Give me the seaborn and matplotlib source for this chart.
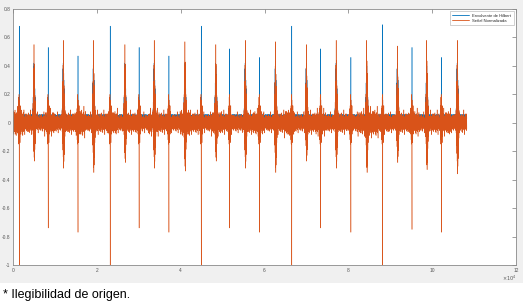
import numpy as np
import pandas as pd
import seaborn as sns
import matplotlib.pyplot as plt
from matplotlib.patches import Rectangle

# beat positions in units of 1e4 samples
narrow_x = [0.15, 0.84, 1.55, 2.32, 3.01, 3.72, 4.49, 5.17, 5.88, 6.65, 7.34, 8.06, 8.82, 9.52, 10.22]
narrow_env = [0.68, 0.53, 0.47, 0.68, 0.53, 0.47, 0.68, 0.52, 0.46, 0.68, 0.52, 0.46, 0.69, 0.53, 0.46]
narrow_low = [-1.0, -0.74, -0.77, -1.0, -0.74, -0.77, -1.0, -0.74, -0.77, -1.0, -0.74, -0.77, -1.0, -0.75, -0.77]

broad_x = [0.50, 1.20, 1.92, 2.67, 3.37, 4.10, 4.84, 5.54, 6.26, 7.00, 7.71, 8.44, 9.17, 9.87, 10.60]
broad_peak = [0.55, 0.58, 0.58, 0.55, 0.58, 0.57, 0.55, 0.58, 0.57, 0.55, 0.58, 0.58, 0.54, 0.58, 0.58]
broad_low = [-0.27, -0.32, -0.35, -0.28, -0.32, -0.34, -0.27, -0.32, -0.35, -0.27, -0.32, -0.35, -0.28, -0.33, -0.36]

signal_end = 10.83
step = 0.003

# baseline noise level per 0.25 x 1e4 block, estimated from the band width
noise_level = [0.09, 0.07, 0.06, 0.08, 0.06, 0.07, 0.09, 0.06, 0.07, 0.08, 0.06, 0.07,
               0.06, 0.08, 0.07, 0.06, 0.09, 0.07, 0.06, 0.08, 0.07, 0.06, 0.07, 0.08,
               0.06, 0.07, 0.09, 0.06, 0.07, 0.08, 0.06, 0.07, 0.06, 0.08, 0.09, 0.07,
               0.06, 0.07, 0.08, 0.06, 0.07, 0.08, 0.06, 0.07]

# hand-typed waveform pieces
noise = [0.3, -0.8, 0.5, -0.2, 0.9, -0.6, 0.1, -0.9, 0.7, -0.4, 0.2, -0.7, 0.8, -0.1, 0.4,
         -0.5, 1.0, -0.3, 0.6, -0.9, 0.0, -0.6, 0.7, -0.2, 0.5, -1.0, 0.3, -0.4, 0.8, -0.7,
         0.2, -0.3, 0.4, -0.6, 1.3, -0.5, 0.2, -0.8, 0.6, -0.3, 0.1, -1.2, 0.5, -0.2, 0.7,
         -0.6, 0.3, -0.4, 0.9, -0.1, 0.4, -0.7, 0.2]
env_noise = [0.03, 0.05, 0.02, 0.04, 0.06, 0.02, 0.04, 0.01, 0.05, 0.03, 0.04, 0.02, 0.06,
             0.03, 0.04, 0.05, 0.02, 0.05, 0.03, 0.04, 0.02, 0.06, 0.04, 0.01, 0.05, 0.03, 0.05, 0.02, 0.04]
narrow_shape = [0.06, -0.08, 0.1, -0.12, 0.12, -0.15, 0.18, -0.1, 0.2, -0.14, 0.0,
                0.16, -0.12, 0.12, -0.1, 0.1, -0.14, 0.08, -0.06, 0.12, -0.08, 0.06]
narrow_spike = 10
broad_shape = [0.1, -0.1, 0.15, -0.2, 0.25, -0.3, 0.35, -0.45, 0.5, -0.6, 0.7, -0.75,
               1.0, -0.9, 0.75, -1.0, 0.6, -0.85, 0.45, -0.7, 0.35, -0.55, 0.28, -0.4,
               0.2, -0.3, 0.15, -0.2, 0.12, -0.15]
broad_env = [0.05, 0.1, 0.06, 0.18, 0.1, 0.28, 0.15, 0.38, 0.2, 0.42, 0.28, 0.4,
             0.3, 0.34, 0.2, 0.3, 0.15, 0.24, 0.1, 0.18, 0.08, 0.12, 0.05, 0.08]

n = int(signal_end / step)
x = np.arange(n) * step
block = int(round(0.25 / step))
level = np.repeat(noise_level, block)[:n]
sig = level * np.resize(noise, n)
env = np.resize(env_noise, n).astype(float)

for bx, top, low in zip(narrow_x, narrow_env, narrow_low):
    i0 = int(round(bx / step)) - narrow_spike
    sig[i0:i0 + len(narrow_shape)] = narrow_shape
    sig[i0 + narrow_spike] = low
    env[i0 + narrow_spike] = top

for bx, top, low in zip(broad_x, broad_peak, broad_low):
    i0 = int(round(bx / step)) - 12
    shape = np.array(broad_shape)
    sig[i0:i0 + len(shape)] = np.where(shape > 0, shape * top, shape * -low)
    j0 = int(round(bx / step)) - 10
    env[j0:j0 + len(broad_env)] = broad_env

df = pd.DataFrame({"x": x, "env": env, "sig": sig})

sns.set_theme(style="white")
plt.rcParams["font.family"] = ["Liberation Sans", "DejaVu Sans"]

fig = plt.figure(figsize=(5.23, 3.07), dpi=100, facecolor="#f0f0f0")
# white strip under the MATLAB window for the caption
fig.patches.append(Rectangle((0, 0), 1, 24 / 307, transform=fig.transFigure,
                             facecolor="white", edgecolor="none"))
ax = fig.add_axes([13 / 523, 42 / 307, 503 / 523, 256 / 307])
ax.set_facecolor("white")

sns.lineplot(data=df, x="x", y="env", ax=ax, color="#0072BD", linewidth=0.35,
             estimator=None, sort=False, label="Envolvente de Hilbert")
sns.lineplot(data=df, x="x", y="sig", ax=ax, color="#D95319", linewidth=0.35,
             estimator=None, sort=False, label="Señal Normalizada")

ax.set_xlim(0, 12)
ax.set_ylim(-1, 0.8)
ax.set_xticks(range(0, 13, 2))
ax.set_yticks([-1, -0.8, -0.6, -0.4, -0.2, 0, 0.2, 0.4, 0.6, 0.8])
ax.set_yticklabels(["-1", "-0.8", "-0.6", "-0.4", "-0.2", "0", "0.2", "0.4", "0.6", "0.8"])
ax.set_xlabel("")
ax.set_ylabel("")
ax.tick_params(direction="in", length=3, width=0.4, labelsize=3.5, colors="#555555",
               top=True, right=True, pad=2)
for s in ax.spines.values():
    s.set_color("#8a8a8a")
    s.set_linewidth(0.6)
ax.text(1.0, -0.035, r"$\times10^4$", transform=ax.transAxes, ha="right", va="top",
        fontsize=3.5, color="#555555")

leg = ax.legend(loc="upper right", fontsize=3, frameon=True, fancybox=False,
                handlelength=4, borderpad=0.6, labelspacing=0.3)
leg.get_frame().set_edgecolor("#999999")
leg.get_frame().set_linewidth(0.4)
for line in leg.get_lines():
    line.set_linewidth(0.6)

fig.text(3 / 523, 12 / 307, "* Ilegibilidad de origen.", fontsize=9, color="black",
         ha="left", va="center")

fig.savefig("out.png", dpi=100, facecolor=fig.get_facecolor())
